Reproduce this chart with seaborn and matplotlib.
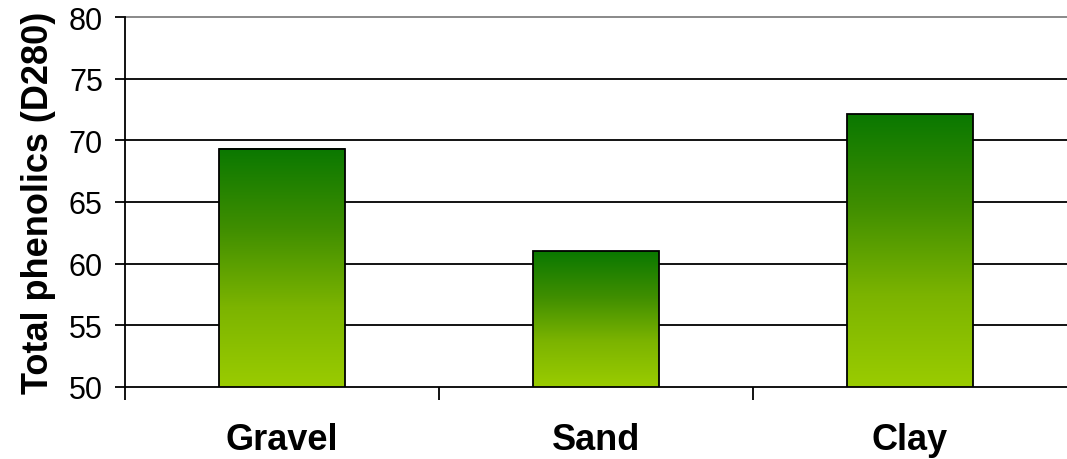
import matplotlib
matplotlib.use("Agg")
import matplotlib.pyplot as plt
import seaborn as sns
import numpy as np
import pandas as pd
from matplotlib.colors import LinearSegmentedColormap

categories = ["Gravel", "Sand", "Clay"]
values = [69.3, 61.0, 72.1]
y_ticks = [50, 55, 60, 65, 70, 75, 80]
y_label = "Total phenolics (D280)"

sns.set_theme(style="white")
plt.rcParams['font.family'] = ['Liberation Sans', 'DejaVu Sans']
plt.rcParams['text.color'] = 'black'
plt.rcParams['axes.labelcolor'] = 'black'
plt.rcParams['xtick.color'] = 'black'
plt.rcParams['ytick.color'] = 'black'

fig = plt.figure(figsize=(10.67, 4.6), dpi=100)
ax = fig.add_axes([125 / 1067, 72 / 460, (1067 - 125) / 1067, (388 - 18) / 460])

df = pd.DataFrame({"cat": categories, "val": values})
sns.barplot(data=df, x="cat", y="val", ax=ax, width=0.4, color="white",
            edgecolor="black", linewidth=1.3, zorder=3)

cmap = LinearSegmentedColormap.from_list("g", ["#9acc00", "#7cb400", "#3f8e00", "#0a7800"])
grad = np.linspace(0, 1, 256).reshape(-1, 1)
bottom = y_ticks[0]
for p in ax.patches:
    x0 = p.get_x(); w = p.get_width(); h = p.get_height()
    p.set_facecolor("none")
    ax.imshow(grad, extent=[x0, x0 + w, bottom, h], origin="lower",
              aspect="auto", cmap=cmap, zorder=2.5, interpolation="bilinear")

ax.set_xlim(-0.5, len(categories) - 0.5)
ax.set_ylim(y_ticks[0], y_ticks[-1])
ax.set_aspect("auto")

# horizontal gridlines
for yv in y_ticks[1:-1]:
    ax.axhline(yv, color="black", lw=1.3, zorder=1)

ax.spines["right"].set_visible(False)
ax.spines["top"].set_color("#808080")
ax.spines["top"].set_linewidth(1.3)
for s in ["left", "bottom"]:
    ax.spines[s].set_color("black")
    ax.spines[s].set_linewidth(1.3)
    ax.spines[s].set_zorder(4)

ax.set_yticks(y_ticks)
ax.set_yticklabels([str(v) for v in y_ticks], fontsize=22, color="black")
ax.tick_params(axis="y", which="major", length=7, width=1.3, color="black",
               direction="out", pad=9, left=True)

ax.set_xticks(range(len(categories)))
ax.set_xticklabels(categories, fontsize=26, fontweight="bold", color="black")
ax.tick_params(axis="x", which="major", length=0, pad=25)
ax.set_xticks(np.arange(-0.5, len(categories) - 0.5, 1.0), minor=True)
ax.tick_params(axis="x", which="minor", length=9, width=1.3, color="black",
               direction="out", bottom=True)

ax.set_xlabel("")
ax.set_ylabel(y_label, fontsize=26, fontweight="bold", labelpad=9, color="black")

fig.savefig("out.png", dpi=100, facecolor="white")
